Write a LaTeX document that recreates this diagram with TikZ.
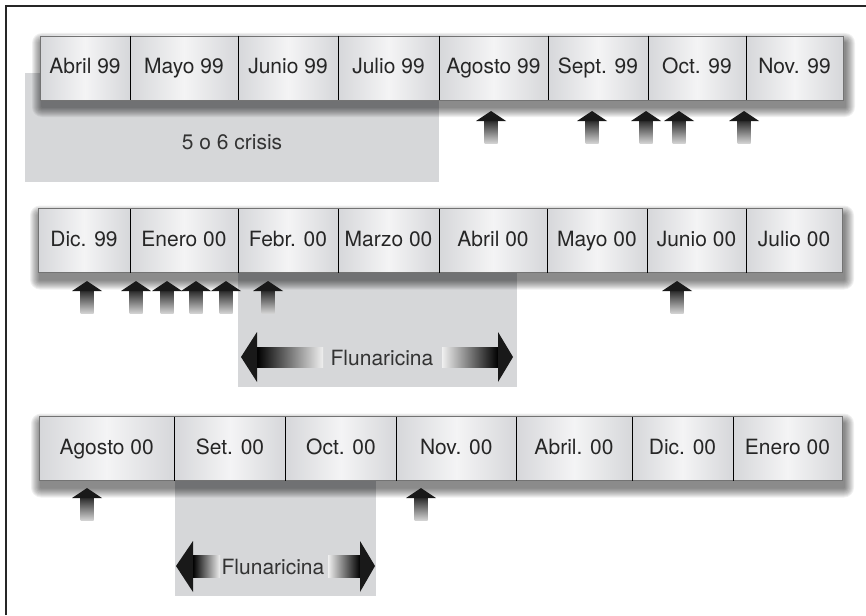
\documentclass[tikz,border=0pt]{standalone}
\usepackage{fontspec}
\setmainfont{TeX Gyre Heros}
\usepackage{tikz}
\usetikzlibrary{backgrounds}
\definecolor{cellgray}{RGB}{214,215,218}
\definecolor{cellhi}{RGB}{244,244,245}
\definecolor{boxgray}{RGB}{214,215,217}
\newcommand{\monthsize}{\fontsize{21}{24}\selectfont}
% soft shadow under a bar, from its north west to its south east corner
\newcommand{\barshadow}[2]{%
    \foreach \e in {1,...,10}
        \fill[black,opacity=0.06,rounded corners=\e pt] ([shift={(-\e+2,-\e+7)}]#1) rectangle ([shift={(\e+2,\e+7)}]#2);}

\begin{document}
\begin{tikzpicture}[x=1pt,y=-1pt]
        \tikzset{month/.style = {shape=rectangle,minimum height=64pt,inner sep=0pt,outer sep=0pt,
            text height=15pt,text depth=4pt,
            left color=cellgray,right color=cellgray,middle color=cellhi,text=black!85,font=\monthsize}}
        \tikzset{barline/.style = {draw=black!55,line width=0.8pt}}
        \tikzset{divider/.style = {draw=black,line width=0.6pt}}
        \tikzset{rangebox/.style = {fill=boxgray}}
        \tikzset{note/.style = {text=black!80,font=\monthsize,inner sep=0pt}}
        \tikzset{episode/.pic = {
            \shade[top color=black!85,bottom color=black!18] (-6.5,9) rectangle (6.5,32);
            \fill[black!90] (0,0) -- (15,10) -- (-15,10) -- cycle;
        }}
        \useasboundingbox (0,0) rectangle (866,615);
        \draw[black!85,line width=1.5pt] (6,615) -- (6,6) -- (866,6);

        % first row
        \node[month,minimum width=90pt] (abr99) at (85,68) {Abril 99};
        \node[month,minimum width=108pt] (may99) at (184,68) {Mayo 99};
        \node[month,minimum width=100pt] (jun99) at (288,68) {Junio 99};
        \node[month,minimum width=101pt] (jul99) at (388.5,68) {Julio 99};
        \node[month,minimum width=109pt] (ago99) at (493.5,68) {Agosto 99};
        \node[month,minimum width=100pt] (sep99) at (598,68) {Sept. 99};
        \node[month,minimum width=98pt] (oct99) at (697,68) {Oct. 99};
        \node[month,minimum width=97pt] (nov99) at (794.5,68) {Nov. 99};

        % second row
        \node[month,minimum width=92pt] (dic99) at (84,240.5) {Dic. 99};
        \node[month,minimum width=108pt] (ene00) at (184,240.5) {Enero 00};
        \node[month,minimum width=100pt] (feb00) at (288,240.5) {Febr. 00};
        \node[month,minimum width=101pt] (mar00) at (388.5,240.5) {Marzo 00};
        \node[month,minimum width=108pt] (abr00) at (493,240.5) {Abril 00};
        \node[month,minimum width=100pt] (may00) at (597,240.5) {Mayo 00};
        \node[month,minimum width=99pt] (jun00) at (696.5,240.5) {Junio 00};
        \node[month,minimum width=96pt] (jul00) at (794,240.5) {Julio 00};

        % third row
        \node[month,minimum width=135.5pt] (ago00) at (106.75,448.5) {Agosto 00};
        \node[month,minimum width=111pt] (set00) at (230,448.5) {Set. 00};
        \node[month,minimum width=111pt] (oct00) at (341,448.5) {Oct. 00};
        \node[month,minimum width=119.5pt] (nov00) at (456.25,448.5) {Nov. 00};
        \node[month,minimum width=116pt] (abrb00) at (574,448.5) {Abril. 00};
        \node[month,minimum width=101pt] (dic00) at (682.5,448.5) {Dic. 00};
        \node[month,minimum width=109pt] (eneb00) at (787.5,448.5) {Enero 00};

        \begin{scope}[on background layer]
            \fill[rangebox] (25,73) rectangle (ago99.south west |- 0,182);
            \fill[rangebox] (feb00.south west) rectangle (517,387);
            \fill[rangebox] (set00.south west) rectangle (376,596);
            \barshadow{abr99.north west}{nov99.south east}
            \barshadow{dic99.north west}{jul00.south east}
            \barshadow{ago00.north west}{eneb00.south east}
        \end{scope}

        \draw[barline] (abr99.north west) rectangle (nov99.south east);
        \draw[barline] (dic99.north west) rectangle (jul00.south east);
        \draw[barline] (ago00.north west) rectangle (eneb00.south east);
        \foreach \m in {may99,jun99,jul99,ago99,sep99,oct99,nov99,ene00,feb00,mar00,abr00,may00,jun00,jul00,set00,oct00,nov00,abrb00,dic00,eneb00}
            \draw[divider] (\m.north west) -- (\m.south west);

        \node[note] (crisis) at (232,142) {5 o 6 crisis};

        \foreach \x in {491,592,646,679,744}
            \pic at (\x,111) {episode};
        \foreach \x in {87,136,167,196,226,268,677}
            \pic at (\x,281) {episode};
        \foreach \x in {87,421}
            \pic at (\x,488) {episode};

        % Flunaricina, second row
        \node[note] (fluA) at (382,358) {Flunaricina};
        \shade[left color=black,right color=black!6] (257,347) rectangle (323,367);
        \fill[black!90] (257,332) -- (241,357) -- (257,382) -- cycle;
        \shade[left color=black!6,right color=black] (442,347) rectangle (498,367);
        \fill[black!90] (498,332) -- (513,357) -- (498,382) -- cycle;

        % Flunaricina, third row
        \node[note] (fluB) at (273,567) {Flunaricina};
        \shade[left color=black,right color=black!6] (193,555) rectangle (220,577);
        \fill[black!90] (193,541) -- (176,566) -- (193,592) -- cycle;
        \shade[left color=black!6,right color=black] (328,555) rectangle (360,577);
        \fill[black!90] (360,541) -- (375,566) -- (360,592) -- cycle;
\end{tikzpicture}
\end{document}
